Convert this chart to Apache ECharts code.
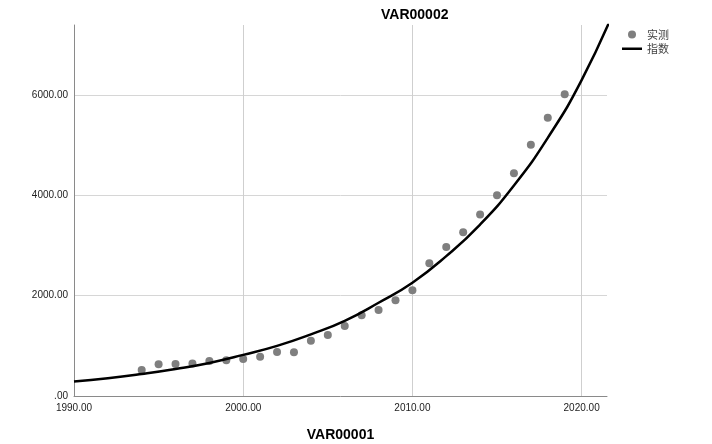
<!DOCTYPE html>
<html>
<head>
<meta charset="utf-8">
<script src="https://cdn.jsdelivr.net/npm/echarts@6/dist/echarts.min.js"></script>
<style>html,body{margin:0;padding:0;background:#fff;}#c{width:712px;height:444px;}</style>
</head>
<body>
<div id="c"></div>
<script>
// Observed values (实测)
const obsYears = [1994,1995,1996,1997,1998,1999,2000,2001,2002,2003,2004,2005,2006,2007,2008,2009,2010,2011,2012,2013,2014,2015,2016,2017,2018,2019];
const obsValues = [520,635,640,650,700,715,740,785,880,875,1100,1215,1395,1610,1715,1910,2110,2650,2970,3265,3620,4005,4445,5010,5550,6020];
// Exponential fit curve (指数)
const fitYears = [1990,1992,1994,1996,1998,2000,2002,2004,2006,2008,2010,2012,2014,2016,2018,2020,2022];
const fitValues = [290,355,440,540,660,820,1000,1230,1500,1860,2260,2790,3420,4200,5150,6300,7750];
const xTicks = [1990,2000,2010,2020];
const yTicks = [0,2000,4000,6000];

const font = '"Liberation Sans", Arial, sans-serif';
const fmt = v => v === 0 ? '.00' : v.toFixed(2);

const chart = echarts.init(document.getElementById('c'), null, {renderer:'canvas'});
chart.setOption({
  animation: false,
  backgroundColor: '#fff',
  title: {
    text: 'VAR00002', left: 376, top: 3,
    textStyle: {fontFamily: font, fontSize: 14, fontWeight: 'bold', color: '#000'}
  },
  legend: {
    orient: 'vertical', left: 617, top: 24, itemWidth: 20, itemHeight: 8, itemGap: 3,
    textStyle: {fontFamily: '"Noto Sans CJK SC", sans-serif', fontSize: 11, color: '#444'},
    data: [
      {name: '实测', icon: 'circle', itemStyle: {color: '#7f7f7f', opacity: 1}},
      {name: '指数', icon: 'path://M0,0 M0,3 L20,3 L20,5.5 L0,5.5 Z M20,8', itemStyle: {color: '#000'}}
    ]
  },
  grid: {left: 74, right: 105, top: 25, bottom: 48, containLabel: false, outerBoundsMode: 'none'},
  xAxis: {
    type: 'value', min: 1990, max: 2021.5, interval: 10,
    name: 'VAR00001', nameLocation: 'middle', nameGap: 32,
    nameTextStyle: {fontFamily: font, fontSize: 14, fontWeight: 'bold', color: '#000'},
    axisLine: {show: true, onZero: false, lineStyle: {color: '#8a8a8a', width: 1}},
    axisTick: {show: false},
    axisLabel: {fontFamily: font, fontSize: 10, color: '#222', margin: 7, formatter: v => xTicks.includes(v) ? v.toFixed(2) : ''},
    splitLine: {show: true, showMinLine: false, showMaxLine: false, lineStyle: {color: '#cfcfcf', width: 1}}
  },
  yAxis: {
    type: 'value', min: 0, max: 7400, interval: 2000,
    axisLine: {show: true, lineStyle: {color: '#8a8a8a', width: 1}},
    axisTick: {show: false},
    axisLabel: {fontFamily: font, fontSize: 10, color: '#222', margin: 6, formatter: v => yTicks.includes(v) ? fmt(v) : ''},
    splitLine: {show: true, showMinLine: false, showMaxLine: false, lineStyle: {color: '#d6d6d6', width: 1}}
  },
  series: [
    {
      name: '实测', type: 'scatter', symbolSize: 8,
      itemStyle: {color: '#7f7f7f', opacity: 1},
      data: obsYears.map((y, i) => [y, obsValues[i]])
    },
    {
      name: '指数', type: 'line', smooth: true, showSymbol: false, symbol: 'none', clip: true,
      lineStyle: {color: '#000', width: 2.5},
      itemStyle: {color: '#000'},
      data: fitYears.map((y, i) => [y, fitValues[i]])
    }
  ]
});
</script>
</body>
</html>
